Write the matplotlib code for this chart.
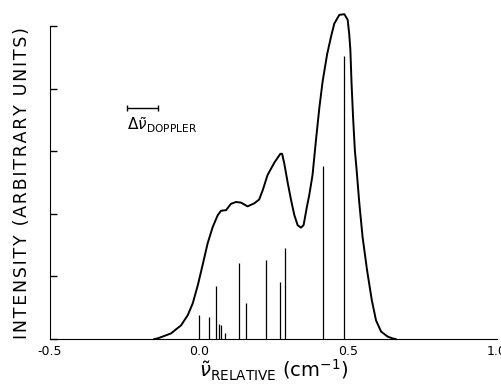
import matplotlib.pyplot as plt

# envelope curve
curve_x = [-0.15, -0.139, -0.094, -0.06, -0.038, -0.021, -0.004, 0.012, 0.029, 0.046, 0.063,
           0.074, 0.091, 0.107, 0.124, 0.141, 0.163, 0.186, 0.202, 0.214, 0.23,
           0.253, 0.273, 0.279, 0.286, 0.298, 0.309, 0.32, 0.331, 0.342, 0.351,
           0.362, 0.37, 0.381, 0.393, 0.404, 0.415, 0.43, 0.443, 0.454, 0.471,
           0.488, 0.499, 0.504, 0.508, 0.512, 0.517, 0.523, 0.529, 0.538, 0.549,
           0.564, 0.58, 0.594, 0.611, 0.633, 0.65, 0.66]
curve_y = [0.0, 0.01, 0.09, 0.22, 0.38, 0.57, 0.86, 1.18, 1.53, 1.79, 1.98,
           2.05, 2.06, 2.16, 2.19, 2.18, 2.12, 2.17, 2.23, 2.38, 2.62,
           2.82, 2.96, 2.96, 2.81, 2.49, 2.22, 1.98, 1.82, 1.78, 1.82,
           2.11, 2.3, 2.62, 3.2, 3.7, 4.12, 4.55, 4.83, 5.04, 5.18,
           5.19, 5.1, 4.88, 4.62, 4.08, 3.55, 3.02, 2.7, 2.17, 1.63,
           1.1, 0.62, 0.3, 0.12, 0.04, 0.01, 0.0]

# stick spectrum
stick_x = [0.0, 0.035, 0.057, 0.068, 0.073, 0.087, 0.133, 0.159, 0.225, 0.273, 0.288, 0.415, 0.488]
stick_y = [0.39, 0.36, 0.85, 0.24, 0.22, 0.09, 1.22, 0.57, 1.27, 0.91, 1.46, 2.77, 4.52]

xticks = [-0.5, 0.0, 0.5, 1.0]
xticklabels = ['-0.5', '0.0', '0.5', '1.0']

fig = plt.figure(figsize=(5.02, 3.84), dpi=100)
ax = fig.add_axes([0.0996, 0.117, 0.8904, 0.815])

ax.plot(curve_x, curve_y, color='black', lw=1.4, clip_on=False, solid_joinstyle='round')
ax.vlines(stick_x, 0, stick_y, color='black', lw=0.9)

# doppler width bar
ax.errorbar([-0.19], [3.69], xerr=[0.052], color='black', lw=1.0, capsize=2.5, capthick=1.0)
ax.text(-0.243, 3.42, r'$\Delta\tilde{\nu}_{\mathsf{DOPPLER}}$', fontsize=11, va='center', ha='left')

ax.set_xlim(-0.5, 1.0)
ax.set_ylim(0, 5)
ax.set_xticks(xticks)
ax.set_xticklabels(xticklabels, fontsize=9)
ax.set_yticks([0, 1, 2, 3, 4, 5])
ax.set_yticklabels([])
ax.tick_params(axis='x', length=0, pad=4)
ax.tick_params(axis='y', direction='in', length=5, width=1)
ax.spines['top'].set_visible(False)
ax.spines['right'].set_visible(False)

# spaced-out lettering like the original
ylab = '\u200a'.join('INTENSITY (ARBITRARY UNITS)')
ax.set_ylabel(ylab, fontsize=12.5, labelpad=10)
ax.set_xlabel(r'$\tilde{\nu}_{\mathsf{RELATIVE}}\ (\mathsf{cm}^{-1})$', fontsize=14, labelpad=0)

plt.savefig('out.png', dpi=100)
